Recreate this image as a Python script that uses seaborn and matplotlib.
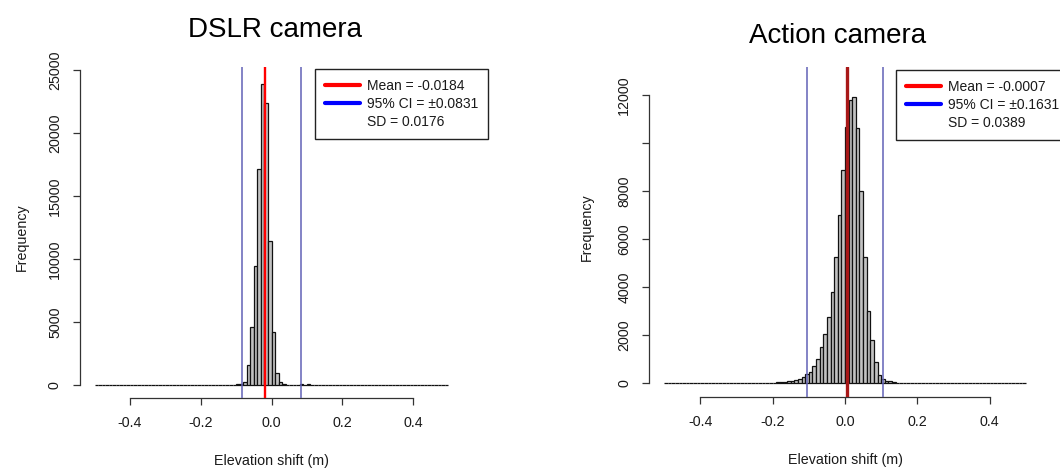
import matplotlib
matplotlib.use('Agg')
import matplotlib.pyplot as plt
from matplotlib.lines import Line2D
import numpy as np
import pandas as pd
import seaborn as sns

sns.set_theme(style='white')
plt.rcParams['font.family'] = ['Liberation Sans', 'DejaVu Sans']
plt.rcParams['axes.unicode_minus'] = False

# bins of 0.01 m from -0.5 to 0.5
bin_edges = [round(i * 0.01, 2) for i in range(-50, 51)]

# DSLR camera: counts for the bins starting at dslr_start
dslr_start = -0.14
dslr_counts = [30, 30, 30, 30, 40, 50, 260, 1590, 4630, 9440, 17120, 23890,
               22360, 11430, 4230, 980, 260, 60, 20, 20, 20, 20, 40, 0, 40]
dslr_mean = -0.0184
dslr_ci = [-0.0831, 0.0831]
dslr_legend = ['Mean = -0.0184', '95% CI = \u00b10.0831', 'SD = 0.0176']
dslr_yticks = [0, 5000, 10000, 15000, 20000, 25000]
dslr_ylabels = ['0', '5000', '10000', '15000', '20000', '25000']

# Action camera
action_start = -0.32
action_counts = [25, 25, 10, 10, 10, 10, 10, 10, 10, 10, 10, 10,
                 30, 40, 50, 60, 80, 100, 150, 180, 275, 387, 483, 720,
                 1011, 1498, 2052, 2774, 3787, 5270, 7004, 8876, 10680,
                 11790, 11900, 10610, 8000, 5270, 3010, 1800, 900, 345,
                 180, 100, 80, 50, 30, 10, 10, 10, 10, 10, 10, 10, 0, 25]
action_mean = 0.005
action_ci = [-0.104, 0.104]
action_legend = ['Mean = -0.0007', '95% CI = \u00b10.1631', 'SD = 0.0389']
action_yticks = [0, 2000, 4000, 6000, 8000, 10000, 12000]
action_ylabels = ['0', '2000', '4000', '6000', '8000', '', '12000']

xticks = [-0.4, -0.2, 0.0, 0.2, 0.4]
xlabels = ['-0.4', '-0.2', '0.0', '0.2', '0.4']


def hist_table(start, counts):
    edges = np.array(bin_edges)
    full = np.zeros(len(edges) - 1)
    i0 = int(round((start - edges[0]) / 0.01))
    full[i0:i0 + len(counts)] = counts
    return pd.DataFrame({'shift': (edges[:-1] + edges[1:]) / 2, 'count': full})


def draw(ax, start, counts, mean, ci, mean_color, mean_lw, legend_labels,
         yticks, ylabels, title, title_pos, ylabel_pos, legend_pos, fig):
    sns.histplot(data=hist_table(start, counts), x='shift', weights='count',
                 bins=bin_edges, color='#C2C2C2', edgecolor='#111111',
                 linewidth=0.9, alpha=1, ax=ax)
    for c in ci:
        ax.axvline(c, color='#6262B6', lw=1.1, zorder=4)
    ax.axvline(mean, color=mean_color, lw=mean_lw, zorder=5)

    ax.set_xlim(-0.541, 0.541)
    ax.set_xticks(xticks)
    ax.set_xticklabels(xlabels)
    ax.set_yticks(yticks)
    ax.set_yticklabels(ylabels)
    sns.despine(ax=ax)
    ax.spines['left'].set_bounds(yticks[0], yticks[-1])
    ax.spines['bottom'].set_bounds(-0.4, 0.4)
    for s in ('left', 'bottom'):
        ax.spines[s].set_color('#333333')
        ax.spines[s].set_linewidth(0.9)
    ax.tick_params(axis='both', direction='out', length=5, width=0.9,
                   color='#333333', labelsize=10.3, pad=8, bottom=True,
                   left=True, labelcolor='#1a1a1a')
    ax.tick_params(axis='y', labelrotation=90)
    for lab in ax.get_yticklabels():
        lab.set_va('center')

    ax.set_xlabel('Elevation shift (m)', fontsize=10.3, color='#1a1a1a')
    ax.xaxis.set_label_coords(0.5, -0.19)
    ax.xaxis.label.set_va('center')
    ax.set_ylabel('Frequency', fontsize=10.3, color='#1a1a1a')
    ax.yaxis.set_label_coords(*ylabel_pos)
    ax.yaxis.label.set_va('center')

    ax.text(title_pos[0], title_pos[1], title, transform=ax.transAxes,
            ha='center', va='baseline', fontsize=20, color='black')

    handles = [Line2D([], [], color='red', lw=3),
               Line2D([], [], color='blue', lw=3),
               Line2D([], [], color='none', lw=3)]
    leg = ax.legend(handles, legend_labels, loc='upper left',
                    bbox_to_anchor=legend_pos, bbox_transform=fig.transFigure,
                    borderaxespad=0, fontsize=10, frameon=True, fancybox=False,
                    framealpha=1, edgecolor='#222222', handlelength=2.5,
                    handletextpad=0.5, labelspacing=0.28, borderpad=0.72)
    leg.get_frame().set_linewidth(1.0)
    for t in leg.get_texts():
        t.set_color('#1a1a1a')


def main():
    fig = plt.figure(figsize=(10.6, 4.71), dpi=100)
    ax1 = fig.add_axes([80 / 1060, 73 / 471, 383 / 1060, 331 / 471])
    ax2 = fig.add_axes([649.3 / 1060, 73.7 / 471, 391.4 / 1060, 330.3 / 471])

    draw(ax1, dslr_start, dslr_counts, dslr_mean, dslr_ci, 'red', 1.7,
         dslr_legend, dslr_yticks, dslr_ylabels, 'DSLR camera',
         (0.51, (398 - 36.7) / 331), (-0.151, (398 - 236.7) / 331),
         (315 / 1060, 1 - 69 / 471), fig)
    ax1.set_ylim(-1032, 25238)

    draw(ax2, action_start, action_counts, action_mean, action_ci, '#A81818',
         2.4, action_legend, action_yticks, action_ylabels, 'Action camera',
         (0.481, (397.3 - 43.3) / 330.3), (-0.159, (397.3 - 226.7) / 330.3),
         (896 / 1060, 1 - 70 / 471), fig)
    ax2.set_ylim(-583, 13165)

    fig.savefig('out.png', dpi=100)


if __name__ == '__main__':
    main()
